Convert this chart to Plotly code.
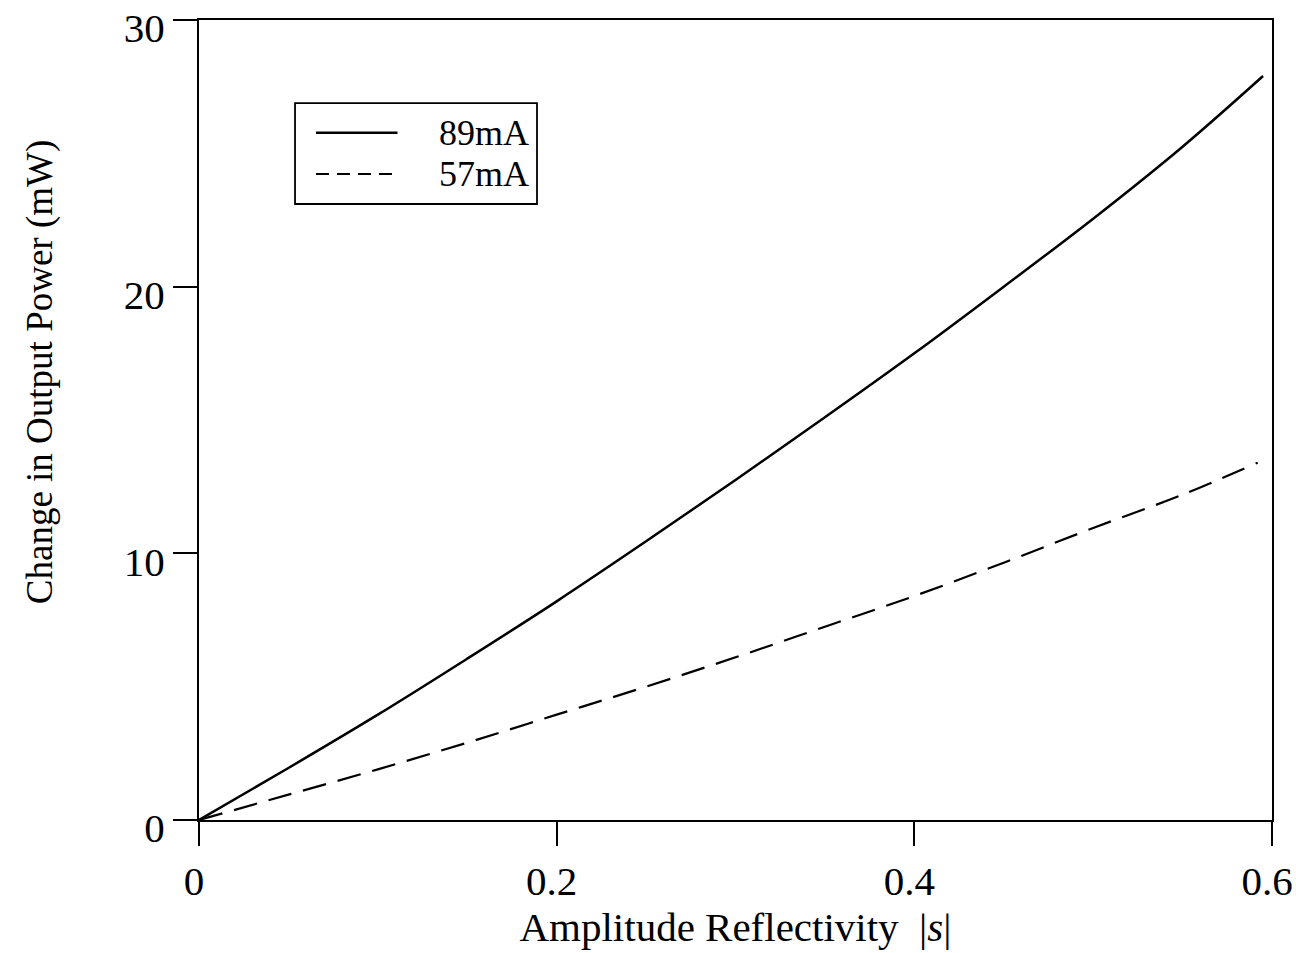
import plotly.graph_objects as go

reflectivity = [0.0, 0.05, 0.10, 0.15, 0.20, 0.25, 0.30, 0.35, 0.40, 0.45, 0.50, 0.55, 0.595]
power_89mA = [0.0, 1.95, 3.95, 6.05, 8.2, 10.45, 12.75, 15.1, 17.5, 20.0, 22.55, 25.25, 27.9]
reflectivity_57 = [0.0, 0.05, 0.10, 0.15, 0.20, 0.25, 0.30, 0.35, 0.40, 0.45, 0.50, 0.55, 0.592]
power_57mA = [0.0, 0.95, 1.9, 2.9, 3.95, 5.0, 6.1, 7.25, 8.4, 9.65, 10.95, 12.2, 13.4]

x_ticks = [0, 0.2, 0.4, 0.6]
x_tick_labels = ["0", "0.2", "0.4", "0.6"]
y_ticks = [0, 10, 20, 30]
y_tick_labels = ["0", "10", "20", "30"]
legend_names = ["89mA", "57mA"]

FONT = "Liberation Serif, Times New Roman, serif"

fig = go.Figure()
fig.add_trace(go.Scatter(x=reflectivity, y=power_89mA, mode="lines", name=legend_names[0],
                         line=dict(color="black", width=2.5, shape="spline"), showlegend=False))
fig.add_trace(go.Scatter(x=reflectivity_57, y=power_57mA, mode="lines", name=legend_names[1],
                         line=dict(color="black", width=2.2, dash="24px,12px", shape="spline"),
                         showlegend=False))

# Legend box drawn in paper coordinates (decoration, mirrors the reference key)
fig.add_shape(type="rect", xref="paper", yref="paper", x0=0.0895, x1=0.315, y0=0.77, y1=0.896,
              line=dict(color="black", width=1.8), fillcolor="white", layer="above")
fig.add_shape(type="line", xref="paper", yref="paper", x0=0.109, x1=0.185, y0=0.859, y1=0.859,
              line=dict(color="black", width=2.5))
fig.add_shape(type="line", xref="paper", yref="paper", x0=0.109, x1=0.185, y0=0.8075, y1=0.8075,
              line=dict(color="black", width=2.2, dash="13px,8px"))
for name, yy in zip(legend_names, [0.859, 0.8075]):
    fig.add_annotation(xref="paper", yref="paper", x=0.222, y=yy, xanchor="left", yanchor="middle",
                       text=name, showarrow=False, font=dict(family=FONT, size=36, color="black"))

# Y axis title placed as in the reference (slightly above the plot centre)
fig.add_annotation(xref="paper", yref="paper", x=-0.148, y=0.56, xanchor="center", yanchor="middle",
                   text="Change in Output Power (mW)", textangle=-90, showarrow=False,
                   font=dict(family=FONT, size=37, color="black"))

fig.update_layout(
    width=1296, height=953,
    margin=dict(l=199, r=24, t=20, b=133),
    paper_bgcolor="white", plot_bgcolor="white",
    font=dict(family=FONT, size=41, color="black"),
    showlegend=False,
    xaxis=dict(range=[0, 0.6], tickvals=x_ticks, ticktext=x_tick_labels, automargin=False,
               ticklabeloverflow="allow", ticklabelshift=-5,
               showgrid=False, zeroline=False, showline=True, linecolor="black",
               linewidth=2, mirror=True, ticks="outside", ticklen=24, tickwidth=2,
               tickcolor="black", tickfont=dict(family=FONT, size=41),
               title=dict(text="Amplitude Reflectivity  |<i>s</i>|",
                          font=dict(family=FONT, size=41), standoff=8)),
    yaxis=dict(range=[0, 30], tickvals=y_ticks, ticktext=y_tick_labels, automargin=False,
               ticklabeloverflow="allow", ticklabelshift=8,
               showgrid=False, zeroline=False, showline=True, linecolor="black",
               linewidth=2, mirror=True, ticks="outside", ticklen=24, tickwidth=2,
               tickcolor="black", tickfont=dict(family=FONT, size=41)),
)

fig.write_html("out.html")
